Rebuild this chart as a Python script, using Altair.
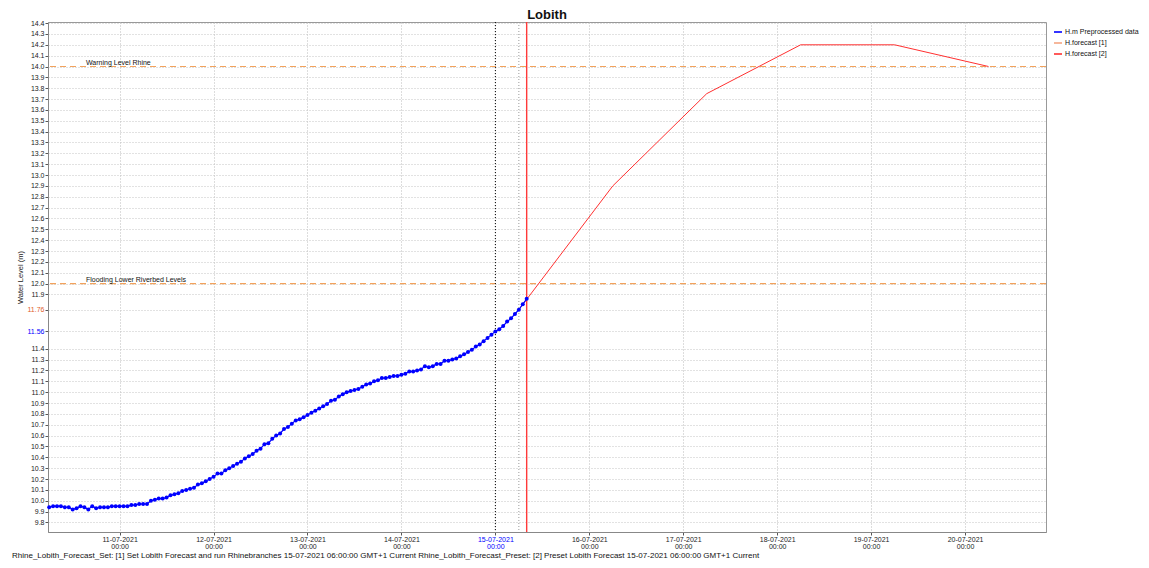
import altair as alt
import pandas as pd

# ---------------- data ----------------
obs_start = "2021-07-10 06:00"
obs_values = [
    9.94, 9.95, 9.95, 9.95, 9.94, 9.94, 9.92, 9.93, 9.95, 9.94,
    9.92, 9.95, 9.93, 9.94, 9.94, 9.94, 9.95, 9.95, 9.95, 9.95,
    9.95, 9.96, 9.96, 9.97, 9.97, 9.97, 10.00, 10.01, 10.02, 10.02,
    10.03, 10.05, 10.06, 10.07, 10.09, 10.10, 10.11, 10.12, 10.15, 10.16,
    10.18, 10.20, 10.22, 10.25, 10.25, 10.28, 10.30, 10.32, 10.34, 10.36,
    10.39, 10.41, 10.43, 10.46, 10.48, 10.52, 10.53, 10.57, 10.60, 10.62,
    10.66, 10.68, 10.71, 10.74, 10.75, 10.77, 10.79, 10.81, 10.83, 10.85,
    10.87, 10.89, 10.92, 10.93, 10.96, 10.98, 11.00, 11.01, 11.02, 11.03,
    11.05, 11.07, 11.08, 11.10, 11.11, 11.13, 11.13, 11.14, 11.15, 11.15,
    11.16, 11.17, 11.19, 11.19, 11.20, 11.21, 11.24, 11.23, 11.24, 11.26,
    11.26, 11.29, 11.29, 11.30, 11.31, 11.33, 11.35, 11.37, 11.39, 11.42,
    11.44, 11.47, 11.50, 11.53, 11.56, 11.58, 11.61, 11.65, 11.68, 11.72,
    11.76, 11.81, 11.86,
]
fc_times = ["2021-07-15 06:00", "2021-07-16 06:00", "2021-07-17 06:00",
            "2021-07-18 06:00", "2021-07-19 06:00", "2021-07-20 06:00"]
fc_values = [11.76, 12.90, 13.75, 14.20, 14.20, 14.00]

threshold_values = [14.0, 12.0]
threshold_labels = ["Warning Level Rhine", "Flooding Lower Riverbed Levels"]

marker_times = ["2021-07-15 00:00", "2021-07-15 06:00", "2021-07-15 08:00"]
marker_kinds = ["t0", "forecast", "now"]

series_names = ["H.m Preprocessed data", "H.forecast [1]", "H.forecast [2]"]
series_colors = ["#0000FF", "#F4A582", "#FF3030"]

y_ticks = [9.8, 9.9, 10.0, 10.1, 10.2, 10.3, 10.4, 10.5, 10.6, 10.7, 10.8, 10.9,
           11.0, 11.1, 11.2, 11.3, 11.4, 11.56, 11.76, 11.9, 12.0, 12.1, 12.2,
           12.3, 12.4, 12.5, 12.6, 12.7, 12.8, 12.9, 13.0, 13.1, 13.2, 13.3,
           13.4, 13.5, 13.6, 13.7, 13.8, 13.9, 14.0, 14.1, 14.2, 14.3, 14.4]
x_tick_days = ["2021-07-11", "2021-07-12", "2021-07-13", "2021-07-14", "2021-07-15",
               "2021-07-16", "2021-07-17", "2021-07-18", "2021-07-19", "2021-07-20"]
x_domain = ["2021-07-10 05:42", "2021-07-20 20:41"]
y_domain = [9.712, 14.41]

title_text = "Lobith"
footer_text = ("Rhine_Lobith_Forecast_Set: [1] Set Lobith Forecast and run Rhinebranches "
               "15-07-2021 06:00:00 GMT+1 Current Rhine_Lobith_Forecast_Preset: [2] Preset "
               "Lobith Forecast 15-07-2021 06:00:00 GMT+1 Current")


def ms(s):
    return int(pd.Timestamp(s, tz="UTC").value // 10**6)


def iso(ts):
    return pd.Timestamp(ts).strftime("%Y-%m-%dT%H:%M:%SZ")


obs_times = pd.date_range(obs_start, periods=len(obs_values), freq="h")
obs_df = pd.DataFrame({"time": [iso(t) for t in obs_times], "value": obs_values,
                       "series": series_names[0]})
fc_df = pd.DataFrame({"time": [iso(t) for t in fc_times], "value": fc_values,
                      "series": series_names[2]})
thr_df = pd.DataFrame({"value": threshold_values, "label": threshold_labels})
mk_df = pd.DataFrame({"time": [iso(t) for t in marker_times], "kind": marker_kinds})

W, H = 998, 510
FONT = "Liberation Sans"

x_scale = alt.Scale(type="utc", domain=[ms(x_domain[0]), ms(x_domain[1])], nice=False)
y_scale = alt.Scale(domain=y_domain, nice=False, zero=False)

x_axis = alt.Axis(
    title=None,
    values=[ms(d) for d in x_tick_days],
    labelExpr="[utcFormat(datum.value, '%d-%m-%Y'), utcFormat(datum.value, '%H:%M')]",
    labelColor={"expr": "utcdate(datum.value) == 15 ? '#0000FF' : '#222222'"},
    labelFontSize=7, labelFont=FONT, labelLineHeight=7.5, labelPadding=0,
    tickSize=3, tickColor="#555555", domainColor="#888888",
    grid=True, gridColor="#BBBBBB", gridDash=[1, 2],
)
y_axis = alt.Axis(
    title="Water Level (m)",
    values=y_ticks,
    labelExpr="(datum.value == 11.76 || datum.value == 11.56) ? format(datum.value, '.2f') : format(datum.value, '.1f')",
    labelColor={"expr": "datum.value == 11.76 ? '#E0602A' : (datum.value == 11.56 ? '#0000FF' : '#222222')"},
    labelFontSize=7, labelFont=FONT, labelPadding=1,
    tickSize=3, tickColor="#555555", domainColor="#888888",
    grid=True, gridColor="#C4C4C4", gridDash=[1, 2],
    titleFont=FONT, titleFontSize=7.5, titleFontWeight="normal", titleColor="#222222",
    titleX=-28, titleY=255, titleAngle=-90, titleAlign="center", titleBaseline="middle",
)

color_scale = alt.Scale(domain=series_names, range=series_colors)

X = alt.X("time:T", scale=x_scale, axis=x_axis)
Y = alt.Y("value:Q", scale=y_scale, axis=y_axis)

thr_rules = alt.Chart(thr_df).mark_rule(
    color="#F2A25C", strokeDash=[6, 4], strokeWidth=1.2
).encode(y=Y)

thr_text = alt.Chart(thr_df).mark_text(
    align="left", baseline="alphabetic", dy=-2, fontSize=7, font=FONT, color="#111111"
).encode(y=Y, x=alt.value(38), text="label:N")

rule_t0 = alt.Chart(mk_df).transform_filter("datum.kind == 't0'").mark_rule(
    color="#000000", strokeDash=[1, 2], strokeWidth=1
).encode(x=X)
rule_fc = alt.Chart(mk_df).transform_filter("datum.kind == 'forecast'").mark_rule(
    color="#9A9A9A", strokeDash=[1, 2], strokeWidth=1
).encode(x=X)
rule_now = alt.Chart(mk_df).transform_filter("datum.kind == 'now'").mark_rule(
    color="#FF3A3A", strokeWidth=1.4
).encode(x=X)

legend = alt.Legend(
    title=None, orient="none", legendX=1005, legendY=5,
    symbolType="stroke", symbolSize=64, symbolStrokeWidth=1.6,
    labelFontSize=7, labelFont=FONT, labelColor="#111111", labelOffset=2,
    rowPadding=2, padding=0,
)

fc_line = alt.Chart(fc_df).mark_line(strokeWidth=1).encode(
    x=X, y=Y, color=alt.Color("series:N", scale=color_scale, legend=legend)
)
obs_line = alt.Chart(obs_df).mark_line(strokeWidth=1.2).encode(
    x=X, y=Y, color=alt.Color("series:N", scale=color_scale, legend=legend)
)
obs_pts = alt.Chart(obs_df).mark_point(filled=True, size=16, opacity=1).encode(
    x=X, y=Y, color=alt.value("#0000FF")
)

title_mark = alt.Chart(pd.DataFrame({"t": [title_text]})).mark_text(
    fontSize=13, fontWeight="bold", font=FONT, color="#111111", align="center",
    baseline="top"
).encode(x=alt.value(W / 2), y=alt.value(-13), text="t:N")

footer_mark = alt.Chart(pd.DataFrame({"t": [footer_text]})).mark_text(
    fontSize=8, font=FONT, color="#111111", align="left", baseline="alphabetic"
).encode(x=alt.value(-36), y=alt.value(536), text="t:N")

chart = alt.layer(
    thr_rules, thr_text, rule_t0, rule_fc, fc_line, rule_now, obs_line, obs_pts,
    title_mark, footer_mark
).properties(
    width=W, height=H,
    autosize=alt.AutoSizeParams(type="none"),
    padding={"left": 40, "top": 14, "right": 95, "bottom": 28},
    background="white",
).configure_view(stroke="#999999", strokeWidth=1)

chart.save("out.html", embed_options={"renderer": "svg", "actions": False})
